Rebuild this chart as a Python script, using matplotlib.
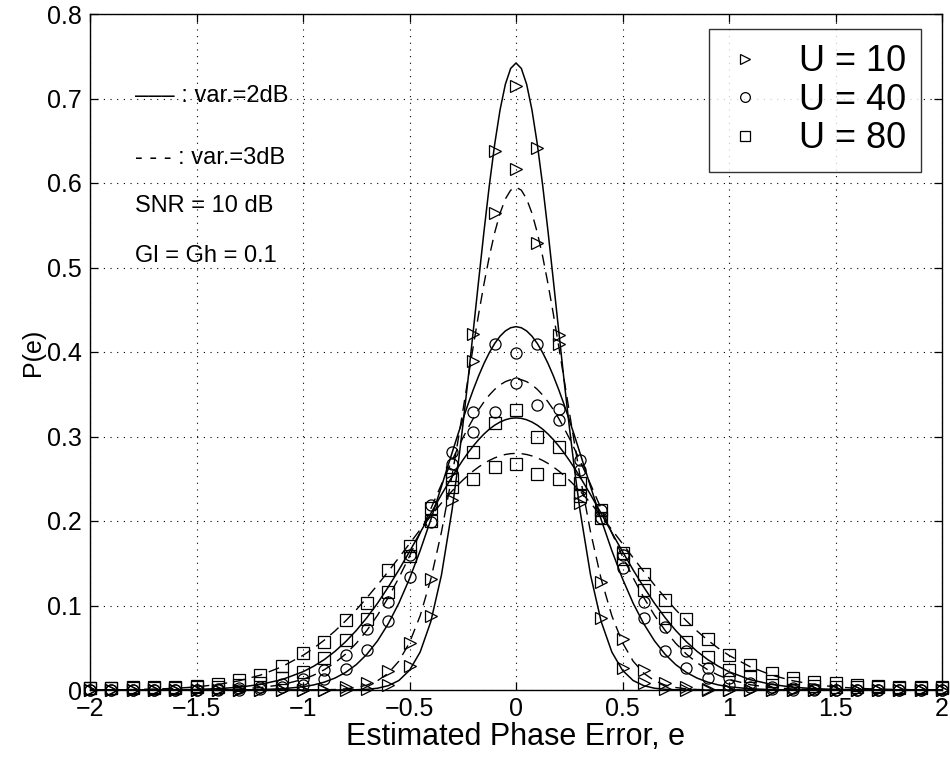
import matplotlib
matplotlib.use("Agg")
import matplotlib.pyplot as plt
from matplotlib.lines import Line2D

# ---------------- data ----------------
x_curve = [-2.0, -1.9, -1.8, -1.7, -1.6, -1.5, -1.4, -1.3, -1.2, -1.1,
           -1.0, -0.95, -0.9, -0.85, -0.8, -0.75, -0.7, -0.65, -0.6, -0.55,
           -0.5, -0.45, -0.4, -0.35,
           -0.3, -0.275, -0.25, -0.225, -0.2, -0.175, -0.15, -0.125, -0.1, -0.075, -0.05, -0.025,
           0.0,
           0.025, 0.05, 0.075, 0.1, 0.125, 0.15, 0.175, 0.2, 0.225, 0.25, 0.275, 0.3,
           0.35, 0.4, 0.45, 0.5, 0.55, 0.6, 0.65, 0.7, 0.75, 0.8, 0.85, 0.9, 0.95, 1.0,
           1.1, 1.2, 1.3, 1.4, 1.5, 1.6, 1.7, 1.8, 1.9, 2.0]

# analytical curves, var = 2 dB (solid)
u10_2db = [0, 0, 0, 0, 0, 0, 0, 0, 0, 0,
           0, 0, 0, 0, 0.0001, 0.0003, 0.0008, 0.0021, 0.0051, 0.0112,
           0.0233, 0.0449, 0.0809, 0.136,
           0.2134, 0.2604, 0.3122, 0.368, 0.4264, 0.4855, 0.5434, 0.5976, 0.646, 0.6864, 0.7168, 0.7356,
           0.742,
           0.7356, 0.7168, 0.6864, 0.646, 0.5976, 0.5434, 0.4855, 0.4264, 0.368, 0.3122, 0.2604, 0.2134,
           0.136, 0.0809, 0.0449, 0.0233, 0.0112, 0.0051, 0.0021, 0.0008, 0.0003, 0.0001, 0, 0, 0, 0,
           0, 0, 0, 0, 0, 0, 0, 0, 0, 0]
u40_2db = [0, 0, 0, 0, 0, 0, 0, 0.0001, 0.0005, 0.0014,
           0.0038, 0.006, 0.0093, 0.0141, 0.0208, 0.03, 0.0423, 0.0582, 0.0783, 0.1027,
           0.1317, 0.1649, 0.2016, 0.2408,
           0.2808, 0.3006, 0.3198, 0.3384, 0.3558, 0.372, 0.3866, 0.3993, 0.4101, 0.4187, 0.4249, 0.4287,
           0.43,
           0.4287, 0.4249, 0.4187, 0.4101, 0.3993, 0.3866, 0.372, 0.3558, 0.3384, 0.3198, 0.3006, 0.2808,
           0.2408, 0.2016, 0.1649, 0.1317, 0.1027, 0.0783, 0.0582, 0.0423, 0.03, 0.0208, 0.0141, 0.0093, 0.006, 0.0038,
           0.0014, 0.0005, 0.0001, 0, 0, 0, 0, 0, 0, 0]
u80_2db = [0, 0, 0, 0.0001, 0.0003, 0.0007, 0.0016, 0.0033, 0.0066, 0.0122,
           0.0216, 0.0281, 0.036, 0.0457, 0.0571, 0.0704, 0.0856, 0.1027, 0.1217, 0.1421,
           0.1638, 0.1862, 0.2089, 0.2312,
           0.2524, 0.2624, 0.2719, 0.2808, 0.289, 0.2964, 0.303, 0.3087, 0.3134, 0.3171, 0.3198, 0.3215,
           0.322,
           0.3215, 0.3198, 0.3171, 0.3134, 0.3087, 0.303, 0.2964, 0.289, 0.2808, 0.2719, 0.2624, 0.2524,
           0.2312, 0.2089, 0.1862, 0.1638, 0.1421, 0.1217, 0.1027, 0.0856, 0.0704, 0.0571, 0.0457, 0.036, 0.0281, 0.0216,
           0.0122, 0.0066, 0.0033, 0.0016, 0.0007, 0.0003, 0.0001, 0, 0, 0]

# analytical curves, var = 3 dB (dashed)
u10_3db = [0, 0, 0, 0, 0, 0, 0, 0, 0, 0,
           0, 0.0001, 0.0003, 0.0006, 0.0014, 0.0029, 0.0058, 0.011, 0.0198, 0.0341,
           0.056, 0.0878, 0.1311, 0.1869,
           0.2541, 0.2911, 0.3296, 0.3687, 0.4077, 0.4455, 0.481, 0.5133, 0.5413, 0.5642, 0.5811, 0.5915,
           0.595,
           0.5915, 0.5811, 0.5642, 0.5413, 0.5133, 0.481, 0.4455, 0.4077, 0.3687, 0.3296, 0.2911, 0.2541,
           0.1869, 0.1311, 0.0878, 0.056, 0.0341, 0.0198, 0.011, 0.0058, 0.0029, 0.0014, 0.0006, 0.0003, 0.0001, 0,
           0, 0, 0, 0, 0, 0, 0, 0, 0, 0]
u40_3db = [0, 0, 0, 0, 0, 0.0002, 0.0005, 0.0012, 0.0029, 0.0062,
           0.0126, 0.0175, 0.024, 0.0322, 0.0425, 0.0552, 0.0705, 0.0885, 0.1093, 0.1327,
           0.1583, 0.1859, 0.2145, 0.2434,
           0.2716, 0.2851, 0.2981, 0.3102, 0.3216, 0.3319, 0.3411, 0.3491, 0.3558, 0.3611, 0.3649, 0.3672,
           0.368,
           0.3672, 0.3649, 0.3611, 0.3558, 0.3491, 0.3411, 0.3319, 0.3216, 0.3102, 0.2981, 0.2851, 0.2716,
           0.2434, 0.2145, 0.1859, 0.1583, 0.1327, 0.1093, 0.0885, 0.0705, 0.0552, 0.0425, 0.0322, 0.024, 0.0175, 0.0126,
           0.0062, 0.0029, 0.0012, 0.0005, 0.0002, 0, 0, 0, 0, 0]
u80_3db = [0.0001, 0.0003, 0.0006, 0.0011, 0.002, 0.0037, 0.0065, 0.0109, 0.0176, 0.0274,
           0.041, 0.0494, 0.059, 0.0698, 0.0818, 0.0949, 0.1092, 0.1243, 0.1402, 0.1565,
           0.1732, 0.1897, 0.2059, 0.2213,
           0.2355, 0.2421, 0.2483, 0.254, 0.2593, 0.264, 0.2682, 0.2717, 0.2747, 0.277, 0.2787, 0.2797,
           0.28,
           0.2797, 0.2787, 0.277, 0.2747, 0.2717, 0.2682, 0.264, 0.2593, 0.254, 0.2483, 0.2421, 0.2355,
           0.2213, 0.2059, 0.1897, 0.1732, 0.1565, 0.1402, 0.1243, 0.1092, 0.0949, 0.0818, 0.0698, 0.059, 0.0494, 0.041,
           0.0274, 0.0176, 0.0109, 0.0065, 0.0037, 0.002, 0.0011, 0.0006, 0.0003, 0.0001]

# simulation markers, x = -2 : 0.1 : 2
x_sim = [-2.0, -1.9, -1.8, -1.7, -1.6, -1.5, -1.4, -1.3, -1.2, -1.1,
         -1.0, -0.9, -0.8, -0.7, -0.6, -0.5, -0.4, -0.3, -0.2, -0.1,
         0.0, 0.1, 0.2, 0.3, 0.4, 0.5, 0.6, 0.7, 0.8, 0.9,
         1.0, 1.1, 1.2, 1.3, 1.4, 1.5, 1.6, 1.7, 1.8, 1.9, 2.0]
sim_u10_2db = [0, 0, 0, 0, 0, 0, 0, 0, 0, 0,
               0, 0, 0, 0.001, 0.006, 0.028, 0.088, 0.225, 0.421, 0.638,
               0.715, 0.641, 0.42, 0.221, 0.0856, 0.026, 0.008, 0.001, 0, 0,
               0, 0, 0, 0, 0, 0, 0, 0, 0, 0, 0]
sim_u10_3db = [0, 0, 0, 0, 0, 0, 0, 0, 0, 0,
               0, 0.0005, 0.0035, 0.008, 0.023, 0.056, 0.131, 0.258, 0.389, 0.564,
               0.616, 0.529, 0.41, 0.233, 0.128, 0.06, 0.0237, 0.008, 0.0035, 0.0015,
               0, 0, 0, 0, 0, 0, 0, 0, 0, 0, 0]
sim_u40_2db = [0, 0, 0, 0, 0, 0, 0, 0.0005, 0.0015, 0.003,
               0.006, 0.0127, 0.0245, 0.047, 0.082, 0.134, 0.199, 0.282, 0.329, 0.41,
               0.399, 0.41, 0.333, 0.272, 0.203, 0.144, 0.0856, 0.0465, 0.0257, 0.0138,
               0.006, 0.003, 0.0015, 0.0005, 0, 0, 0, 0, 0, 0, 0]
sim_u40_3db = [0, 0, 0, 0, 0, 0, 0.001, 0.002, 0.004, 0.007,
               0.0135, 0.0237, 0.041, 0.072, 0.1045, 0.16, 0.219, 0.268, 0.305, 0.329,
               0.363, 0.337, 0.32, 0.26, 0.213, 0.16, 0.1045, 0.075, 0.0465, 0.0257,
               0.014, 0.008, 0.004, 0.002, 0.001, 0, 0, 0, 0, 0, 0]
sim_u80_2db = [0.002, 0.002, 0.002, 0.002, 0.002, 0.003, 0.004, 0.006, 0.0087, 0.0138,
               0.0217, 0.0375, 0.059, 0.0837, 0.116, 0.158, 0.2, 0.25, 0.282, 0.316,
               0.331, 0.299, 0.288, 0.245, 0.203, 0.155, 0.118, 0.085, 0.057, 0.039,
               0.0237, 0.0166, 0.0107, 0.0079, 0.005, 0.004, 0.003, 0.003, 0.002, 0.002, 0.002]
sim_u80_3db = [0.002, 0.002, 0.003, 0.003, 0.004, 0.0047, 0.007, 0.0118, 0.0178, 0.0284,
               0.0434, 0.057, 0.083, 0.1026, 0.142, 0.17, 0.215, 0.24, 0.25, 0.264,
               0.268, 0.256, 0.25, 0.23, 0.213, 0.162, 0.137, 0.106, 0.0845, 0.06,
               0.041, 0.0296, 0.0205, 0.0146, 0.0099, 0.0079, 0.006, 0.005, 0.004, 0.004, 0.003]

legend_labels = ["U = 10", "U = 40", "U = 80"]
x_ticks = [-2, -1.5, -1, -0.5, 0, 0.5, 1, 1.5, 2]
x_tick_labels = ["\u22122", "\u22121.5", "\u22121", "\u22120.5", "0", "0.5", "1", "1.5", "2"]
y_ticks = [0, 0.1, 0.2, 0.3, 0.4, 0.5, 0.6, 0.7, 0.8]
y_tick_labels = ["0", "0.1", "0.2", "0.3", "0.4", "0.5", "0.6", "0.7", "0.8"]

# ---------------- figure ----------------
plt.rcParams["font.family"] = ["Liberation Sans", "DejaVu Sans"]
fig = plt.figure(figsize=(9.5, 7.62), dpi=100)
ax = fig.add_axes([90 / 950, 1 - 690 / 762, (942 - 90) / 950, (690 - 14) / 762])

solid_kw = dict(color="k", lw=1.1, linestyle="-")
dash_kw = dict(color="k", lw=1.0, linestyle=(0, (8, 5)))
for ys in (u10_2db, u40_2db, u80_2db):
    ax.plot(x_curve, ys, **solid_kw)
for ys in (u10_3db, u40_3db, u80_3db):
    ax.plot(x_curve, ys, **dash_kw)

mk_kw = dict(linestyle="none", mfc="none", mec="k", mew=0.9, ms=8, clip_on=False)
ax.plot(x_sim, sim_u10_2db, marker=">", **mk_kw)
ax.plot(x_sim, sim_u10_3db, marker=">", **mk_kw)
ax.plot(x_sim, sim_u40_2db, marker="o", **mk_kw)
ax.plot(x_sim, sim_u40_3db, marker="o", **mk_kw)
ax.plot(x_sim, sim_u80_2db, marker="s", **mk_kw)
ax.plot(x_sim, sim_u80_3db, marker="s", **mk_kw)

ax.set_xlim(-2, 2)
ax.set_ylim(0, 0.8)
ax.set_xticks(x_ticks)
ax.set_xticklabels(x_tick_labels)
ax.set_yticks(y_ticks)
ax.set_yticklabels(y_tick_labels)
ax.tick_params(direction="in", length=6, width=0.9, top=True, right=True,
               labelsize=18, pad=5)
ax.tick_params(axis="y", pad=6)
ax.grid(True, color="k", linestyle=(0, (1, 5)), lw=0.8)
for s in ax.spines.values():
    s.set_linewidth(1.0)

ax.set_xlabel("Estimated Phase Error, e", fontsize=22, labelpad=1)
ax.set_ylabel("P(e)", fontsize=18, labelpad=1)

ax.text(-1.79, 0.703, "\u2013\u2013\u2013 : var.=2dB", fontsize=17, va="center", ha="left")
ax.text(-1.79, 0.629, "- - - : var.=3dB", fontsize=17, va="center", ha="left")
ax.text(-1.79, 0.573, "SNR = 10 dB", fontsize=17, va="center", ha="left")
ax.text(-1.79, 0.514, "Gl = Gh = 0.1", fontsize=17, va="center", ha="left")

handles = [Line2D([], [], linestyle="none", marker=m, mfc="none", mec="k", mew=0.9, ms=7)
           for m in (">", "o", "s")]
leg = ax.legend(handles, legend_labels, loc="upper right",
                bbox_to_anchor=(921 / 950, 1 - 29 / 762), bbox_transform=fig.transFigure,
                borderaxespad=0, fontsize=26, frameon=True, fancybox=False,
                handlelength=1.17, handletextpad=0.9, labelspacing=0.1,
                borderpad=0.42)
leg.get_frame().set_edgecolor("k")
leg.get_frame().set_linewidth(1.0)

fig.savefig("out.png", dpi=100)
